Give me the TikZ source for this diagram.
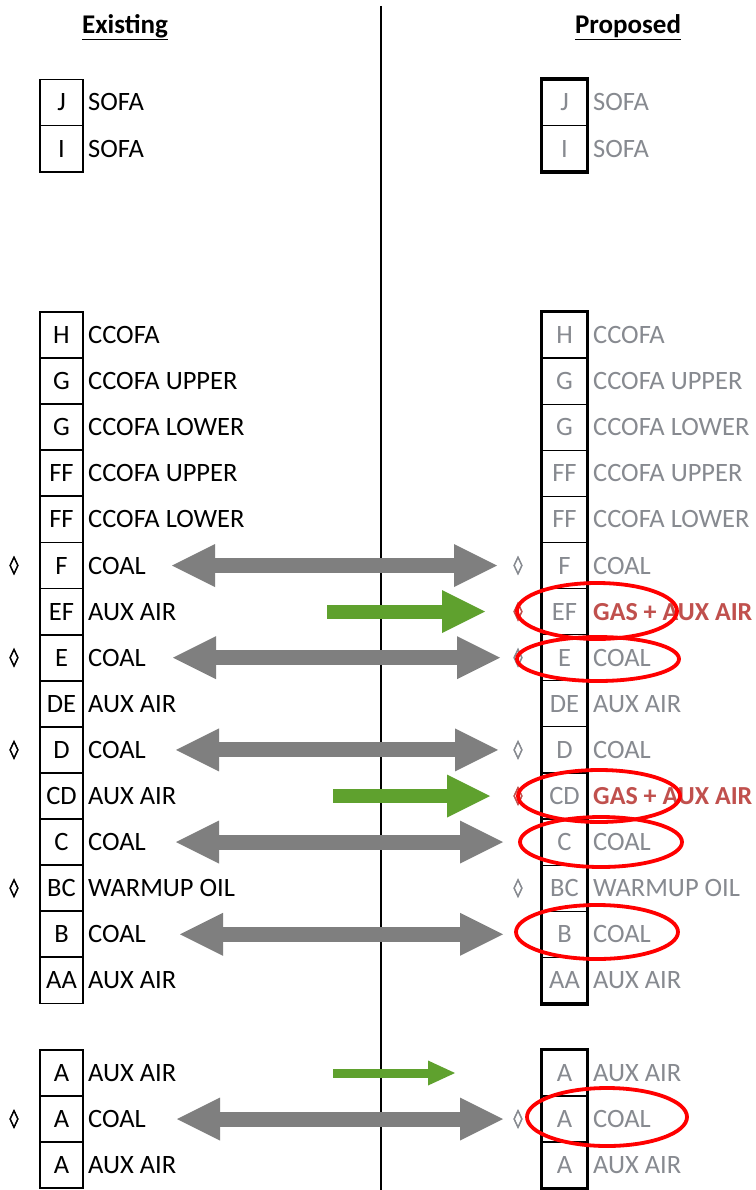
\documentclass[tikz,border=0pt]{standalone}
\usepackage{fontspec}
\setmainfont{Carlito}
\newfontfamily\symfont[FakeBold=3]{DejaVu Sans}
\usetikzlibrary{arrows.meta}
\definecolor{arrgray}{HTML}{7F7F7F}
\definecolor{arrgreen}{HTML}{5FA12E}
\definecolor{proptext}{HTML}{878A90}
\definecolor{redtext}{HTML}{C0504D}
\definecolor{ringred}{HTML}{FF0000}
\tikzset{
  txt/.style={inner sep=0pt, font=\fontsize{26.5}{26.5}\selectfont, text height=17pt, text depth=0pt},
  lcell/.style={txt, draw=black, line width=1.8pt, minimum width=43pt, minimum height=46.1pt, text=black},
  rcell/.style={txt, draw=black, line width=1.2pt, minimum width=45pt, minimum height=46.1pt, text=proptext},
  ltext/.style={txt, anchor=west, text=black},
  rtext/.style={txt, anchor=west, text=proptext},
  gtext/.style={txt, anchor=west, text=redtext, font=\fontsize{26}{26}\selectfont\bfseries},
  dia/.style={inner sep=0pt, font=\symfont\fontsize{18}{18}\selectfont},
  header/.style={inner sep=0pt, font=\fontsize{27}{27}\selectfont\bfseries},
  grayarrow/.style={draw=arrgray, line width=15pt,
    {Triangle[width=43pt,length=43pt,line width=0pt]}-{Triangle[width=43pt,length=43pt,line width=0pt]}},
  greenarrow/.style={draw=arrgreen, line width=14pt, -{Triangle[width=43pt,length=43pt,line width=0pt]}},
  smallgreen/.style={draw=arrgreen, line width=9pt, -{Triangle[width=25pt,length=27pt,line width=0pt]}},
  ring/.style={draw=ringred, line width=3.8pt},
  outline/.style={draw=black, line width=3.5pt},
}
\newcommand{\myrow}[6]{%
  % #1 id, #2 y, #3 letter, #4 left label, #5 right label, #6 right style
  \node[lcell] (L#1) at (61.5,#2) {#3};
  \node[ltext] (LT#1) at (88,#2) {#4};
  \node[rcell] (R#1) at (564.5,#2) {#3};
  \node[#6] (RT#1) at (593,#2) {#5};
}
\begin{document}
\begin{tikzpicture}[x=1pt,y=-1pt]
\useasboundingbox (0,0) rectangle (755,1190);
\fill[white] (0,0) rectangle (755,1190);

% centre divider
\coordinate (divtop) at (381,6);
\coordinate (divbot) at (381,1190);
\draw[line width=2.8pt] (divtop) -- (divbot);

% headers
\node[header] (hexist) at (125,27) {\underline{Existing}};
\node[header] (hprop) at (628,27) {\underline{Proposed}};

% top group
\myrow{J}{102.5}{J}{SOFA}{SOFA}{rtext}
\myrow{I}{148.6}{I}{SOFA}{SOFA}{rtext}

% main group
\myrow{H}{335}{H}{CCOFA}{CCOFA}{rtext}
\myrow{G1}{381.1}{G}{CCOFA UPPER}{CCOFA UPPER}{rtext}
\myrow{G2}{427.2}{G}{CCOFA LOWER}{CCOFA LOWER}{rtext}
\myrow{FF1}{473.3}{FF}{CCOFA UPPER}{CCOFA UPPER}{rtext}
\myrow{FF2}{519.4}{FF}{CCOFA LOWER}{CCOFA LOWER}{rtext}
\myrow{F}{565.5}{F}{COAL}{COAL}{rtext}
\myrow{EF}{611.6}{EF}{AUX AIR}{GAS + AUX AIR}{gtext}
\myrow{E}{657.7}{E}{COAL}{COAL}{rtext}
\myrow{DE}{703.8}{DE}{AUX AIR}{AUX AIR}{rtext}
\myrow{D}{749.9}{D}{COAL}{COAL}{rtext}
\myrow{CD}{796}{CD}{AUX AIR}{GAS + AUX AIR}{gtext}
\myrow{C}{842.1}{C}{COAL}{COAL}{rtext}
\myrow{BC}{888.2}{BC}{WARMUP OIL}{WARMUP OIL}{rtext}
\myrow{B}{934.3}{B}{COAL}{COAL}{rtext}
\myrow{AA}{980.4}{AA}{AUX AIR}{AUX AIR}{rtext}

% bottom group
\myrow{A1}{1073}{A}{AUX AIR}{AUX AIR}{rtext}
\myrow{A2}{1119}{A}{COAL}{COAL}{rtext}
\myrow{A3}{1165}{A}{AUX AIR}{AUX AIR}{rtext}

% thick outlines of proposed columns
\draw[outline] (RJ.north west) rectangle (RI.south east);
\draw[outline] (RH.north west) rectangle (RAA.south east);
\draw[outline] (RA1.north west) rectangle (RA3.south east);

% diamonds
\foreach \r in {F,E,D,BC,A2} {
  \node[dia, text=black] (ld\r) at (14,0 |- L\r) {◊};
}
\foreach \r in {F,E,D,BC,A2} {
  \node[dia, text=proptext] (rd\r) at (518,0 |- R\r) {◊};
}
\foreach \r in {EF,CD} {
  \node[dia, text=redtext] (rd\r) at (518,0 |- R\r) {◊};
}

% gray double arrows
\coordinate (gFa) at (172,565.5);  \coordinate (gFb) at (497,565.5);
\coordinate (gEa) at (173,657.7);  \coordinate (gEb) at (500,657.7);
\coordinate (gDa) at (176,749.9);  \coordinate (gDb) at (498,749.9);
\coordinate (gCa) at (176,842.1);  \coordinate (gCb) at (503,842.1);
\coordinate (gBa) at (180,934.3);  \coordinate (gBb) at (503,934.3);
\coordinate (gAa) at (177,1119);   \coordinate (gAb) at (503,1119);
\draw[grayarrow] (gFa) -- (gFb);
\draw[grayarrow] (gEa) -- (gEb);
\draw[grayarrow] (gDa) -- (gDb);
\draw[grayarrow] (gCa) -- (gCb);
\draw[grayarrow] (gBa) -- (gBb);
\draw[grayarrow] (gAa) -- (gAb);

% green arrows
\coordinate (nEFa) at (327,611.6); \coordinate (nEFb) at (485,611.6);
\coordinate (nCDa) at (333,796);   \coordinate (nCDb) at (490,796);
\coordinate (nA1a) at (333,1073);  \coordinate (nA1b) at (455,1073);
\draw[greenarrow] (nEFa) -- (nEFb);
\draw[greenarrow] (nCDa) -- (nCDb);
\draw[smallgreen] (nA1a) -- (nA1b);

% red rings
\draw[ring] (597,611) ellipse [x radius=80, y radius=28];
\draw[ring] (598,659) ellipse [x radius=81, y radius=22];
\draw[ring] (599,796) ellipse [x radius=81, y radius=26];
\draw[ring] (601,842) ellipse [x radius=81, y radius=25];
\draw[ring] (597,932) ellipse [x radius=81, y radius=27];
\draw[ring] (607,1117) ellipse [x radius=80, y radius=29];
\end{tikzpicture}
\end{document}
